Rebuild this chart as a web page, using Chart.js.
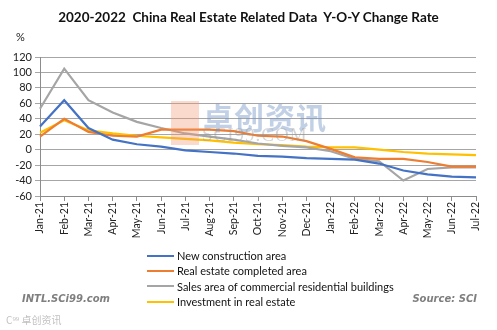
<!DOCTYPE html>
<html><head><meta charset="utf-8">
<script src="https://cdn.jsdelivr.net/npm/chart.js@4/dist/chart.umd.min.js"></script>
<style>
html,body{margin:0;padding:0;background:#fff;}
#wrap{position:relative;width:497px;height:330px;overflow:hidden;font-family:Lato,"Open Sans",sans-serif;}
canvas{position:absolute;left:0;top:0;}
.t{position:absolute;white-space:nowrap;}
#title{left:0;width:497px;top:9px;text-align:center;font-weight:bold;font-size:13.5px;color:#111;}
#pct{left:16px;top:30px;font-size:11px;color:#222;}
#legend{left:147px;top:248px;font-size:11px;color:#111;}
.li{height:15.3px;line-height:15px;display:flex;align-items:center;}
.sw{width:27px;height:2px;margin-right:3px;}
#foot1{left:22px;top:293px;font-family:"DejaVu Sans",sans-serif;font-weight:bold;font-style:italic;font-size:10px;color:#7f7f7f;}
#foot2{right:20px;top:293px;font-family:"DejaVu Sans",sans-serif;font-weight:bold;font-style:italic;font-size:10px;color:#7f7f7f;}
#wm1{left:203px;top:94px;font-family:"Noto Sans CJK SC";font-size:30px;color:rgba(120,150,200,0.45);font-weight:bold;letter-spacing:1px;}
#wm2{left:202px;top:124px;font-family:"Liberation Serif",serif;font-size:19px;color:rgba(150,150,150,0.4);letter-spacing:1px;}
#logo{left:171px;top:101px;width:28px;height:44px;background:rgba(240,150,110,0.35);}
#wm3{left:6px;top:312px;font-family:"Noto Sans CJK SC";font-size:10px;color:rgba(150,150,150,0.6);}
</style></head>
<body><div id="wrap">
<canvas id="c" width="497" height="330"></canvas>
<div class="t" id="logo"></div>
<div class="t" id="wm1">卓创资讯</div>
<div class="t" id="wm2">SCI99.COM</div>
<div class="t" id="title">2020-2022&nbsp; China Real Estate Related Data&nbsp; Y-O-Y Change Rate</div>
<div class="t" id="pct">%</div>
<div class="t" id="legend"></div>
<div class="t" id="foot1">INTL.SCi99.com</div>
<div class="t" id="foot2">Source: SCI</div>
<div class="t" id="wm3">C⁹⁹ 卓创资讯</div>
</div>
<script>
const categories = ["Jan-21","Feb-21","Mar-21","Apr-21","May-21","Jun-21","Jul-21","Aug-21","Sep-21","Oct-21","Nov-21","Dec-21","Jan-22","Feb-22","Mar-22","Apr-22","May-22","Jun-22","Jul-22"];
const newConstruction = [30,64,28,13,7,4,-1,-3,-5,-8,-9,-11,-12,-13,-18,-27,-32,-35,-36];
const completedArea   = [17,40,23,18,17,26,26,26,24,18,17,11,1,-10,-12,-12,-16,-22,-22];
const salesArea       = [53,105,64,48,36,28,21,17,13,8,5,3,-2,-12,-15,-40,-25,-23,-23];
const investment      = [22,38,25,21,18,16,14,12,9,7,6,4,3,3,0,-3,-5,-6,-7];
const seriesNames = ["New construction area","Real estate completed area","Sales area of commercial residential buildings","Investment in real estate"];
const seriesColors = ["#4472C4","#ED7D31","#A5A5A5","#FFC000"];
const yMin = -60, yMax = 120, yStep = 20;

const seriesData = [newConstruction, completedArea, salesArea, investment];
const datasets = seriesData.map((d,i)=>({
  label: seriesNames[i], data: d, borderColor: seriesColors[i], backgroundColor: seriesColors[i],
  borderWidth: 2.2, pointRadius: 0, tension: 0, fill: false
}));

new Chart(document.getElementById('c'), {
  type: 'line',
  data: { labels: categories, datasets: datasets },
  options: {
    responsive: false, animation: false,
    layout: { padding: { left: 0, top: 57, right: 21, bottom: 0 } },
    plugins: { legend: { display: false }, tooltip: { enabled: false }, title: { display: false } },
    scales: {
      x: {
        offset: false,
        grid: { display: true, drawOnChartArea: false, drawTicks: true, tickLength: 5, color: '#8c8c8c' },
        border: { display: true, color: '#8c8c8c', width: 1 },
        ticks: { autoSkip: false, maxRotation: 90, minRotation: 90, padding: 1, color: '#222', font: { family: 'Lato, "Open Sans", sans-serif', size: 10.5 } },
        afterFit: s => { s.height = 134; }
      },
      y: {
        min: yMin, max: yMax,
        grid: { color: '#a6a6a6', lineWidth: 1, drawTicks: true, tickLength: 5 },
        border: { display: true, color: '#8c8c8c' },
        ticks: { autoSkip: false, stepSize: yStep, padding: 3, color: '#222', font: { family: 'Lato, "Open Sans", sans-serif', size: 11 } },
        afterFit: s => { s.width = 40; }
      }
    }
  }
});

const lg = document.getElementById('legend');
seriesNames.forEach((n,i)=>{
  const row = document.createElement('div'); row.className='li';
  const sw = document.createElement('div'); sw.className='sw'; sw.style.background = seriesColors[i];
  const tx = document.createElement('span'); tx.textContent = n;
  row.appendChild(sw); row.appendChild(tx); lg.appendChild(row);
});
</script>
</body></html>
